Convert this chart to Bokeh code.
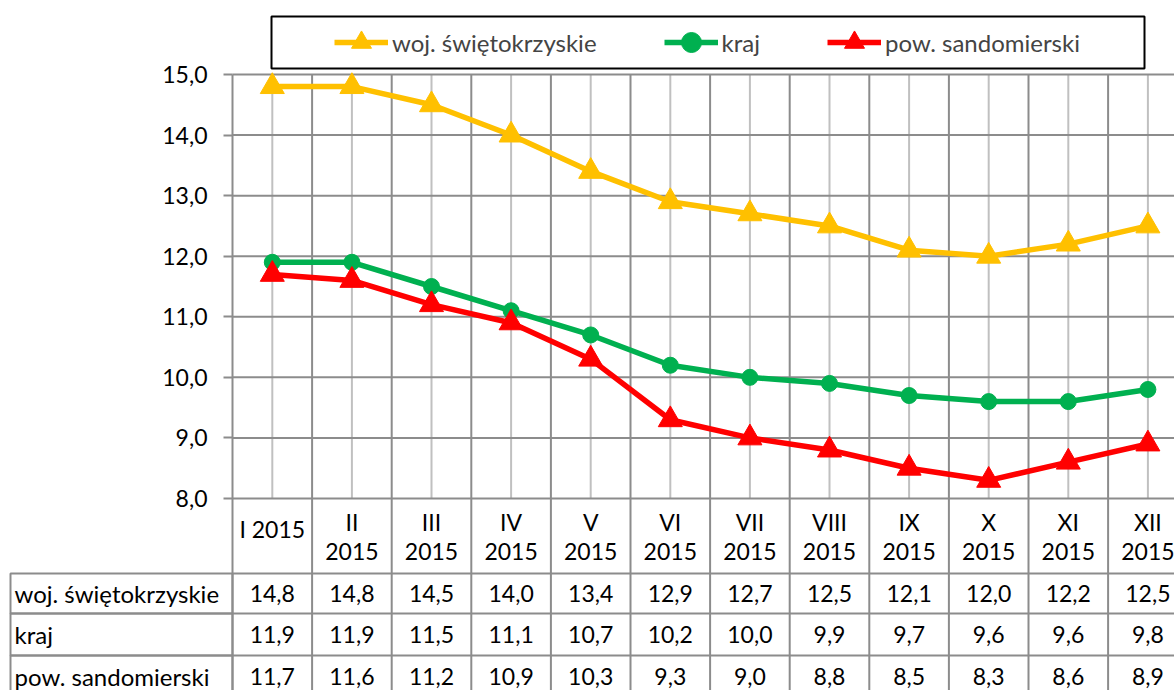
from bokeh.plotting import figure
from bokeh.models import (Range1d, LinearAxis, FixedTicker, CustomJSTickFormatter,
                          Legend, LegendItem, BoxAnnotation)
from bokeh.core.properties import value
from bokeh.embed import file_html
from bokeh.resources import INLINE

# ---------------- data ----------------
categories = ["I 2015", "II 2015", "III 2015", "IV 2015", "V 2015", "VI 2015",
              "VII 2015", "VIII 2015", "IX 2015", "X 2015", "XI 2015", "XII 2015"]
series_names = ["woj. świętokrzyskie", "kraj", "pow. sandomierski"]
woj = [14.8, 14.8, 14.5, 14.0, 13.4, 12.9, 12.7, 12.5, 12.1, 12.0, 12.2, 12.5]
kraj = [11.9, 11.9, 11.5, 11.1, 10.7, 10.2, 10.0, 9.9, 9.7, 9.6, 9.6, 9.8]
powiat = [11.7, 11.6, 11.2, 10.9, 10.3, 9.3, 9.0, 8.8, 8.5, 8.3, 8.6, 8.9]
y_ticks = [8, 9, 10, 11, 12, 13, 14, 15]

series = [woj, kraj, powiat]
colors = ["#FFC000", "#00B050", "#FF0000"]
markers = ["triangle", "circle", "triangle"]
msizes = [24, 16, 24]

FONT = "Lato"
FS = "23px"
GRID = "#8c8c8c"
LIGHT = "#c0c0c0"

# ---------------- layout (pixels) ----------------
W, H = 1174, 690
X0PX, CATW = 232, 79.6          # pixel of category boundary 0, px per category
Y15PX, PPU = 74, 424 / 7.0       # pixel of top tick, px per unit
n = len(categories)


def xd(px):  # pixel -> x data
    return (px - X0PX) / CATW


def yd(py):  # pixel -> y data
    return y_ticks[-1] - (py - Y15PX) / PPU


row_bounds = [573, 613, 655, 697]
centers = [i + 0.5 for i in range(n)]
bounds = list(range(n + 1))


def fmt(v):
    return f"{v:.1f}".replace(".", ",")


p = figure(width=W, height=H, x_range=Range1d(xd(0), xd(W)), y_range=Range1d(yd(H), yd(0)),
           x_axis_type=None, y_axis_type=None, output_backend="svg",
           toolbar_location=None, min_border=0, outline_line_color=None,
           background_fill_color="white", border_fill_color="white")

# grid: light lines at category centres, category boundaries (through the table),
# horizontal value lines
p.segment(x0=centers, y0=[y_ticks[0]] * n, x1=centers, y1=[y_ticks[-1]] * n,
          line_color=LIGHT, line_width=2)
p.segment(x0=bounds, x1=bounds, y0=[y_ticks[-1]] * len(bounds), y1=[yd(H + 10)] * len(bounds),
          line_color=GRID, line_width=2)
p.segment(x0=[0] * len(y_ticks), x1=[xd(W + 10)] * len(y_ticks), y0=y_ticks, y1=y_ticks,
          line_color=GRID, line_width=2)

# y axis, fixed at the first category boundary
yaxis = LinearAxis(fixed_location=0, ticker=FixedTicker(ticks=y_ticks),
                   formatter=CustomJSTickFormatter(code="return tick.toFixed(1).replace('.', ',');"),
                   axis_line_color=None, major_tick_in=0, major_tick_out=9,
                   major_tick_line_color=GRID, major_tick_line_width=2,
                   minor_tick_line_color=None, major_label_text_font=FONT,
                   major_label_text_font_size=FS, major_label_standoff=16,
                   major_label_text_color="black")
p.add_layout(yaxis, "left")

# series
items = []
for name, vals, c, m, s in zip(series_names, series, colors, markers, msizes):
    rl = p.line(centers, vals, line_color=c, line_width=5.5)
    rp = p.scatter(centers, vals, marker=m, size=s, fill_color=c, line_color=c)
    items.append(LegendItem(label=name, renderers=[rl, rp]))

legend = Legend(items=items, orientation="horizontal",
                location=(324, H - 77), padding=10, spacing=67,
                label_standoff=4, glyph_width=54, glyph_height=50, label_height=24,
                label_text_font=FONT, label_text_font_size="24px",
                border_line_alpha=0, background_fill_alpha=0, margin=0)
p.add_layout(legend, "center")
p.add_layout(BoxAnnotation(left=xd(271), right=xd(1144), top=yd(16), bottom=yd(68),
                           fill_alpha=0, line_color="black", line_alpha=1, line_width=2))

# table: header (category labels)
first = categories[0]
tops = [c.split(" ")[0] for c in categories[1:]]
years = [c.split(" ")[1] for c in categories[1:]]
p.text(x=centers[:1], y=[yd(528)], text=[first], text_align="center",
       text_baseline="middle", text_font=value(FONT), text_font_size=value(FS),
       text_color="black")
p.text(x=centers[1:], y=[yd(521)] * (n - 1), text=tops, text_align="center",
       text_baseline="middle", text_font=value(FONT), text_font_size=value(FS),
       text_color="black")
p.text(x=centers[1:], y=[yd(551)] * (n - 1), text=years, text_align="center",
       text_baseline="middle", text_font=value(FONT), text_font_size=value(FS),
       text_color="black")

# table: row lines and left column cells
p.segment(x0=[0] * len(row_bounds), x1=[xd(W)] * len(row_bounds),
          y0=[yd(b) for b in row_bounds], y1=[yd(b) for b in row_bounds],
          line_color=GRID, line_width=2)
nr = len(series_names)
p.quad(left=[xd(10)] * nr, right=[0] * nr,
       top=[yd(b) for b in row_bounds[:-1]], bottom=[yd(b) for b in row_bounds[1:]],
       fill_color=None, line_color=GRID, line_width=2)

# table: rows
for r, (name, vals) in enumerate(zip(series_names, series)):
    cy = yd((row_bounds[r] + row_bounds[r + 1]) / 2)
    p.text(x=centers, y=[cy] * n, text=[fmt(v) for v in vals],
           text_align="center", text_baseline="middle", text_font=value(FONT),
           text_font_size=value(FS), text_color="black")
    p.text(x=[xd(14)], y=[cy], text=[name], text_align="left",
           text_baseline="middle", text_font=value(FONT), text_font_size=value("24px"),
           text_color="black")

open("out.html", "w").write(file_html(p, INLINE))
